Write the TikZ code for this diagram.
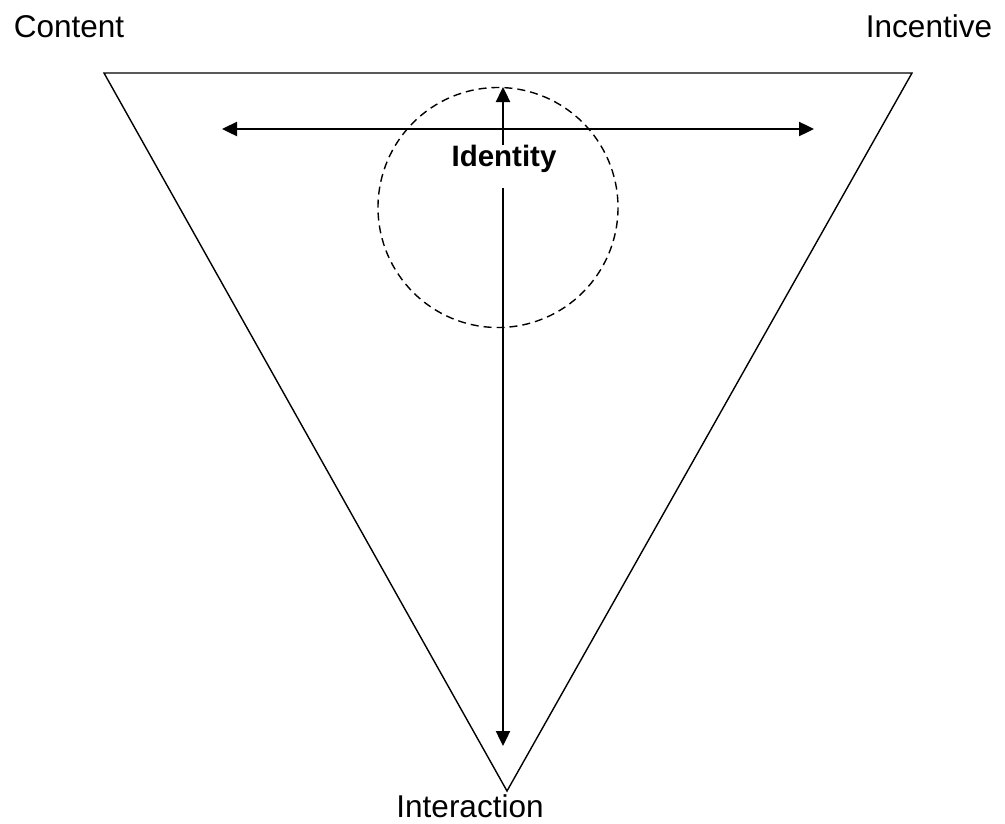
\documentclass[tikz,border=0pt]{standalone}
\usepackage{fontspec}
\setmainfont{Liberation Sans}
\usetikzlibrary{arrows.meta}

\begin{document}
\begin{tikzpicture}[x=1pt,y=-1pt,
		lbl/.style={font=\fontsize{31.5}{36}\selectfont, inner sep=0pt},
		axis/.style={line width=2.4pt, -{Triangle[length=15pt,width=14pt]}},
		tri/.style={line width=1.4pt, line join=miter}]
			\useasboundingbox (0,0) rectangle (1005,823);
			\node[lbl]  (content) at (69,27){Content};
			\node[lbl]  (incentive) at (929,26){Incentive};
			\node[lbl]  (interaction) at (470,806.5){Interaction};
			\coordinate (tl) at (104,73);
			\coordinate (tr) at (912,73);
			\coordinate (bt) at (507,791);
			\node[lbl, font=\bfseries\fontsize{29.5}{34}\selectfont] (identity) at (504,159){Identity};
			\coordinate (left) at (222,129);
			\coordinate (right) at (814,129);
			\coordinate (idup) at (503,145);
			\coordinate (iddown) at (503,188);
			\coordinate (top) at (503,87);
			\coordinate (bot) at (503,746);
			
			\draw[tri] (tl) -- (tr) -- (bt) -- cycle;
			\draw[line width=1.4pt, dash pattern=on 8pt off 5pt] (498,207.5) circle (120);
			\draw 
			(left) edge[axis, {Triangle[length=15pt,width=14pt]}-{Triangle[length=15pt,width=14pt]}] (right) 
			(idup) edge[axis] (top)
			(iddown) edge[axis] (bot)
			;
		\end{tikzpicture}
\end{document}
